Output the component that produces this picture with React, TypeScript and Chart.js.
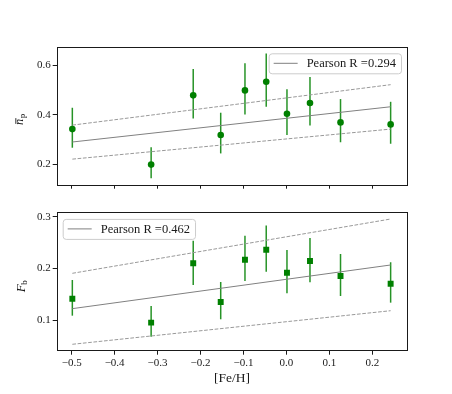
import React, { useEffect, useRef } from "react";
import { Chart, registerables } from "chart.js";

Chart.register(...registerables);

// ---------- data ----------
const feH = [-0.4985, -0.315, -0.217, -0.153, -0.0965, -0.047, 0.0013, 0.0549, 0.126, 0.2427];

const npVals = [0.342, 0.199, 0.478, 0.318, 0.498, 0.533, 0.404, 0.447, 0.369, 0.361];
const npLow = [0.267, 0.144, 0.385, 0.244, 0.401, 0.432, 0.318, 0.357, 0.289, 0.283];
const npHigh = [0.428, 0.269, 0.584, 0.408, 0.607, 0.647, 0.503, 0.552, 0.463, 0.452];

const fbVals = [0.1413, 0.0949, 0.2098, 0.135, 0.2168, 0.2361, 0.1916, 0.2143, 0.1853, 0.1703];
const fbLow = [0.1084, 0.0678, 0.168, 0.1014, 0.1756, 0.1936, 0.1517, 0.173, 0.1465, 0.1336];
const fbHigh = [0.1775, 0.127, 0.2536, 0.1736, 0.263, 0.283, 0.2356, 0.2588, 0.2278, 0.2118];

const fitX = [-0.4985, 0.2427];
const npFit = [0.29, 0.432];
const npUpper = [0.358, 0.521];
const npLower = [0.221, 0.342];
const fbFit = [0.122, 0.2065];
const fbUpper = [0.1904, 0.2955];
const fbLower = [0.053, 0.118];

const xTicks = [-0.5, -0.4, -0.3, -0.2, -0.1, 0.0, 0.1, 0.2];
const npTicks = [0.2, 0.4, 0.6];
const fbTicks = [0.1, 0.2, 0.3];

const xRange = [-0.5349, 0.2815];
const npRange = [0.118, 0.674];
const fbRange = [0.0406, 0.3085];

const npLegend = "Pearson R =0.294";
const fbLegend = "Pearson R =0.462";
const xLabel = "[Fe/H]";

// ---------- helpers ----------
const FONT = '"Liberation Serif", "Times New Roman", serif';
const INK = "#1a1a1a";
const GREEN = "#008000";

const fmt = (v: number) => {
  const s = Math.abs(v) < 1e-9 ? "0.0" : v.toFixed(1);
  return s.replace("-", "\u2212");
};

const decorPlugin = {
  id: "decor",
  beforeDatasetsDraw(chart: any, _a: any, opts: any) {
    const ctx = chart.ctx;
    const xs = chart.scales.x;
    const ys = chart.scales.y;
    ctx.save();
    ctx.strokeStyle = "rgba(0,128,0,0.85)";
    ctx.lineWidth = 1.5;
    opts.x.forEach((xv: number, i: number) => {
      const px = xs.getPixelForValue(xv);
      ctx.beginPath();
      ctx.moveTo(px, ys.getPixelForValue(opts.low[i]));
      ctx.lineTo(px, ys.getPixelForValue(opts.high[i]));
      ctx.stroke();
    });
    ctx.restore();
  },
  afterDraw(chart: any, _a: any, opts: any) {
    const ctx = chart.ctx;
    const ca = chart.chartArea;
    ctx.save();
    // frame
    ctx.strokeStyle = INK;
    ctx.lineWidth = 1;
    ctx.strokeRect(Math.round(ca.left) + 0.5, Math.round(ca.top) + 0.5, Math.round(ca.right - ca.left) - 1, Math.round(ca.bottom - ca.top));

    // legend
    ctx.font = `12.5px ${FONT}`;
    const tw = ctx.measureText(opts.legend).width;
    const bw = 5 + 24 + 9 + tw + 5;
    const bh = 20;
    const bx = opts.legendAlign === "right" ? ca.right - 6.3 - bw : ca.left + 6;
    const by = ca.top + 6.6;
    ctx.beginPath();
    (ctx as any).roundRect(bx + 0.5, by + 0.5, bw, bh, 3);
    ctx.fillStyle = "rgba(255,255,255,0.8)";
    ctx.fill();
    ctx.strokeStyle = "#cccccc";
    ctx.lineWidth = 1;
    ctx.stroke();
    ctx.strokeStyle = "gray";
    ctx.beginPath();
    ctx.moveTo(bx + 5, by + 10);
    ctx.lineTo(bx + 29, by + 10);
    ctx.stroke();
    ctx.fillStyle = INK;
    ctx.textAlign = "left";
    ctx.textBaseline = "middle";
    ctx.fillText(opts.legend, bx + 38, by + 10.5);

    // y label
    ctx.translate(opts.ylabelX, opts.ylabelY);
    ctx.rotate(-Math.PI / 2);
    ctx.textBaseline = "alphabetic";
    ctx.fillStyle = INK;
    if (opts.ylabel === "np") {
      ctx.font = `italic 12.5px ${FONT}`;
      const wn = ctx.measureText("n").width;
      ctx.font = `9px ${FONT}`;
      const wp = ctx.measureText("p").width;
      const x0 = -(wn + wp) / 2;
      ctx.font = `italic 12.5px ${FONT}`;
      ctx.fillText("n", x0, 0);
      ctx.fillRect(x0 + 1, -7.6, wn - 0.5, 0.9);
      ctx.font = `9px ${FONT}`;
      ctx.fillText("p", x0 + wn + 0.3, 2);
    } else {
      ctx.font = `italic 13px ${FONT}`;
      const wf = ctx.measureText("F").width;
      ctx.font = `9px ${FONT}`;
      const wb = ctx.measureText("b").width;
      const x0 = -(wf + wb) / 2;
      ctx.font = `italic 13px ${FONT}`;
      ctx.fillText("F", x0, 0);
      ctx.font = `9px ${FONT}`;
      ctx.fillText("b", x0 + wf - 0.5, 2);
    }
    ctx.restore();

    if (opts.xlabel) {
      ctx.save();
      ctx.font = `13.5px ${FONT}`;
      ctx.fillStyle = INK;
      ctx.textAlign = "center";
      ctx.textBaseline = "middle";
      ctx.fillText(opts.xlabel, (ca.left + ca.right) / 2, opts.xlabelY);
      ctx.restore();
    }
  },
};

type PanelProps = {
  top: number;
  height: number;
  areaTop: number;
  areaBottom: number;
  vals: number[];
  low: number[];
  high: number[];
  fit: number[];
  upper: number[];
  lower: number[];
  yTicks: number[];
  yRange: number[];
  pointStyle: string;
  radius: number;
  legend: string;
  legendAlign: string;
  ylabel: string;
  ylabelX: number;
  ylabelY: number;
  showXLabels: boolean;
  xlabel?: string;
  xlabelY?: number;
};

function Panel(p: PanelProps) {
  const ref = useRef<HTMLCanvasElement | null>(null);
  useEffect(() => {
    if (!ref.current) return;
    const W = 452;
    const left = 56.7;
    const right = 407.3;
    const xAxisH = p.height - p.areaBottom;
    const lineData = (ys: number[]) => fitX.map((x, i) => ({ x, y: ys[i] }));
    const chart = new Chart(ref.current, {
      type: "scatter",
      data: {
        datasets: [
          {
            label: "data",
            data: feH.map((x, i) => ({ x, y: p.vals[i] })),
            pointStyle: p.pointStyle as any,
            pointRadius: p.radius,
            pointBackgroundColor: GREEN,
            pointBorderColor: GREEN,
            pointBorderWidth: 0,
            showLine: false,
            order: 0,
          },
          {
            label: "fit",
            type: "line",
            data: lineData(p.fit),
            borderColor: "gray",
            borderWidth: 1,
            pointRadius: 0,
            order: 1,
          },
          {
            label: "upper",
            type: "line",
            data: lineData(p.upper),
            borderColor: "#999999",
            borderWidth: 1,
            borderDash: [3.7, 1.6],
            pointRadius: 0,
            order: 1,
          },
          {
            label: "lower",
            type: "line",
            data: lineData(p.lower),
            borderColor: "#999999",
            borderWidth: 1,
            borderDash: [3.7, 1.6],
            pointRadius: 0,
            order: 1,
          },
        ] as any,
      },
      options: {
        animation: false,
        responsive: false,
        devicePixelRatio: 1,
        layout: {
          padding: { left: 0, right: W - right, top: p.areaTop, bottom: 0 },
        },
        plugins: {
          legend: { display: false },
          tooltip: { enabled: false },
          decor: {
            x: feH,
            low: p.low,
            high: p.high,
            legend: p.legend,
            legendAlign: p.legendAlign,
            ylabel: p.ylabel,
            ylabelX: p.ylabelX,
            ylabelY: p.ylabelY,
            xlabel: p.xlabel,
            xlabelY: p.xlabelY,
          },
        } as any,
        scales: {
          x: {
            type: "linear",
            min: xRange[0],
            max: xRange[1],
            afterBuildTicks: (s: any) => {
              s.ticks = xTicks.map((v) => ({ value: v }));
            },
            afterFit: (s: any) => {
              s.height = xAxisH;
            },
            grid: {
              display: true,
              drawOnChartArea: false,
              drawTicks: true,
              tickLength: 4,
              tickColor: INK,
              tickWidth: 1,
            },
            border: { display: false },
            ticks: {
              autoSkip: false,
              maxRotation: 0,
              padding: 2,
              color: INK,
              font: { family: FONT, size: 11 },
              callback: (v: any) => (p.showXLabels ? fmt(Number(v)) : ""),
            },
          },
          y: {
            type: "linear",
            min: p.yRange[0],
            max: p.yRange[1],
            afterBuildTicks: (s: any) => {
              s.ticks = p.yTicks.map((v) => ({ value: v }));
            },
            afterFit: (s: any) => {
              s.width = left;
            },
            grid: {
              display: true,
              drawOnChartArea: false,
              drawTicks: true,
              tickLength: 4,
              tickColor: INK,
              tickWidth: 1,
            },
            border: { display: false },
            ticks: {
              autoSkip: false,
              padding: 2,
              color: INK,
              font: { family: FONT, size: 11 },
              callback: (v: any) => fmt(Number(v)),
            },
          },
        },
      } as any,
      plugins: [decorPlugin as any],
    });
    return () => chart.destroy();
  }, []);
  return (
    <canvas
      ref={ref}
      width={452}
      height={p.height}
      style={{ position: "absolute", left: 0, top: p.top, width: 452, height: p.height }}
    />
  );
}

export default function App() {
  return (
    <div style={{ position: "fixed", left: 0, top: 0, width: 452, height: 394, background: "#fff" }}>
      <Panel
        top={0}
        height={200}
        areaTop={46.7}
        areaBottom={184.7}
        vals={npVals}
        low={npLow}
        high={npHigh}
        fit={npFit}
        upper={npUpper}
        lower={npLower}
        yTicks={npTicks}
        yRange={npRange}
        pointStyle="circle"
        radius={3.3}
        legend={npLegend}
        legendAlign="right"
        ylabel="np"
        ylabelX={23}
        ylabelY={119.5}
        showXLabels={false}
      />
      <Panel
        top={200}
        height={194}
        areaTop={12.3}
        areaBottom={150.7}
        vals={fbVals}
        low={fbLow}
        high={fbHigh}
        fit={fbFit}
        upper={fbUpper}
        lower={fbLower}
        yTicks={fbTicks}
        yRange={fbRange}
        pointStyle="rect"
        radius={4.2}
        legend={fbLegend}
        legendAlign="left"
        ylabel="Fb"
        ylabelX={24.5}
        ylabelY={86}
        showXLabels={true}
        xlabel={xLabel}
        xlabelY={178.7}
      />
    </div>
  );
}
